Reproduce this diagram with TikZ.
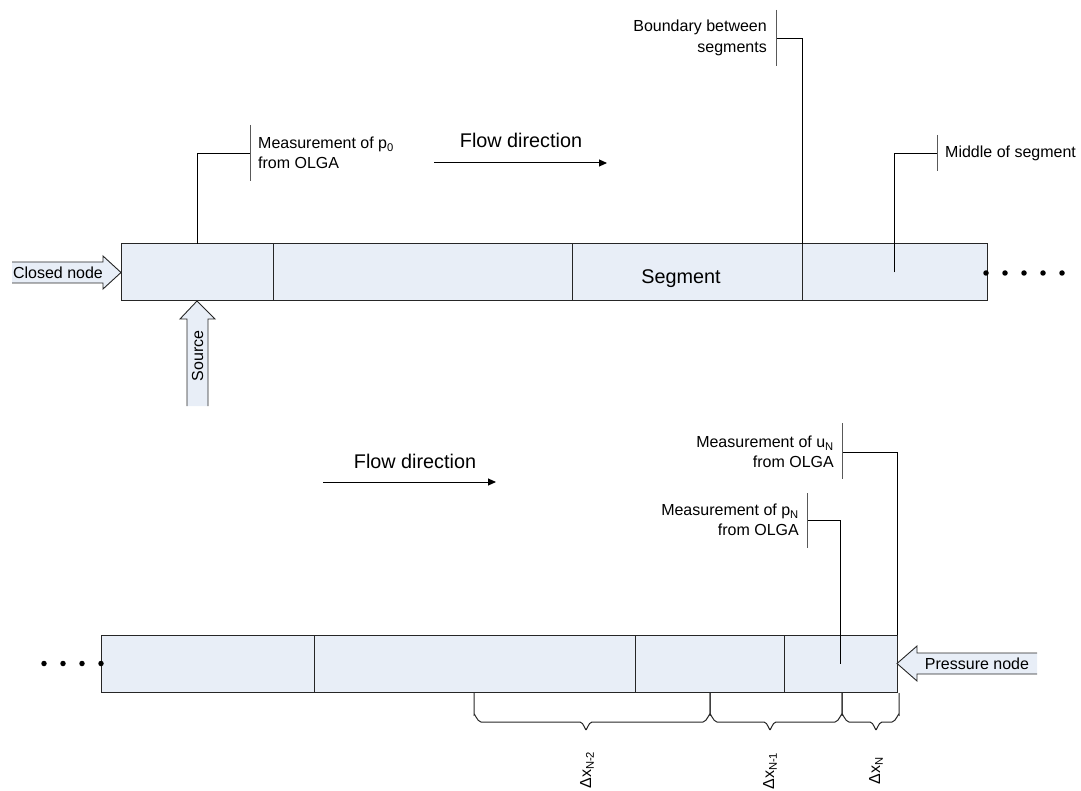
\documentclass[tikz,border=0pt]{standalone}
\usepackage{fontspec}
\setmainfont{Liberation Sans}
\usetikzlibrary{arrows.meta}
\definecolor{pipefill}{RGB}{232,238,247}
\begin{document}
\begin{tikzpicture}[x=1pt,y=-1pt,
  seg/.style={draw=black!85, fill=pipefill, line width=1pt, minimum height=57pt, inner sep=0pt, outer sep=0pt, anchor=north west},
  lead/.style={draw=black, line width=0.9pt},
  bar/.style={draw=black!65, line width=1pt},
  ctext/.style={font=\fontsize{16}{20.5}\selectfont, inner sep=0pt},
  bigtext/.style={font=\fontsize{19.8}{23}\selectfont, inner sep=0pt},
  flow/.style={-{Triangle[length=8pt,width=7pt]}, line width=1pt},
  dot/.style={circle, fill=black, inner sep=0pt, minimum size=5.5pt},
  bigarrow/.style={draw=black!85, line width=0.9pt},
  brace/.style={draw=black!85, line width=1pt}
]
\useasboundingbox (0,0) rectangle (1081,791);

% ---------- top pipe ----------
\node[seg, minimum width=152pt] (t1) at (121,244) {};
\node[seg, minimum width=299pt] (t2) at (273,244) {};
\node[seg, minimum width=230pt] (t3) at (572,244) {};
\node[seg, minimum width=185pt] (t4) at (802,244) {};
\node[bigtext] (seglabel) at (681,279) {Segment};

\foreach \i/\x in {1/986,2/1005,3/1024,4/1043,5/1062}
  \node[dot] (td\i) at (\x,273) {};

% closed node arrow
\fill[pipefill] (12,262) -- (103,262) -- (103,256) -- (t1.west) -- (103,289) -- (103,283) -- (12,283) -- cycle;
\draw[bigarrow] (12,262) -- (103,262) -- (103,256) -- (t1.west) -- (103,289) -- (103,283) -- (12,283);
\node[ctext] (closed) at (58,272.5) {Closed node};

% source arrow
\fill[pipefill] (187,406) -- (187,319) -- (180,319) -- (t1.south) -- (215,319) -- (208,319) -- (208,406) -- cycle;
\draw[bigarrow] (187,406) -- (187,319) -- (180,319) -- (t1.south) -- (215,319) -- (208,319) -- (208,406);
\node[ctext, rotate=90] (source) at (197.5,356) {Source};

% callout: p0
\coordinate (p0c) at (250,153);
\draw[lead] (t1.north) |- (p0c);
\draw[bar] (250,125) -- (250,181);
\node[ctext, anchor=west, align=left] (p0txt) at (258,153) {Measurement of p\textsubscript{0}\\from OLGA};

% callout: boundary
\coordinate (bc) at (776,38);
\draw[lead] (t3.north east) |- (bc);
\draw[bar] (776,10) -- (776,66);
\node[ctext, anchor=east, align=right] (btxt) at (767,38) {Boundary between\\segments};

% callout: middle
\coordinate (mc) at (937,153);
\draw[lead] (t4.center) |- (mc);
\draw[bar] (937,135) -- (937,171);
\node[ctext, anchor=west] (mtxt) at (945,153) {Middle of segment};

% flow direction (top)
\node[bigtext] (flow1) at (521,140) {Flow direction};
\coordinate (f1a) at (434,163);
\coordinate (f1b) at (607,163);
\draw[flow] (f1a) -- (f1b);

% ---------- bottom pipe ----------
\node[seg, minimum width=213pt] (b1) at (101,635) {};
\node[seg, minimum width=321pt] (b2) at (314,635) {};
\node[seg, minimum width=149pt] (b3) at (635,635) {};
\node[seg, minimum width=113pt] (b4) at (784,635) {};

\foreach \i/\x in {1/44,2/63,3/82,4/101}
  \node[dot] (bd\i) at (\x,663.5) {};

% pressure node arrow
\fill[pipefill] (1037,653) -- (917,653) -- (917,646) -- (b4.east) -- (917,681) -- (917,674) -- (1037,674) -- cycle;
\draw[bigarrow] (1037,653) -- (917,653) -- (917,646) -- (b4.east) -- (917,681) -- (917,674) -- (1037,674);
\node[ctext] (pressure) at (977,663.5) {Pressure node};

% callout: uN
\coordinate (uc) at (842,452);
\draw[lead] (b4.north east) |- (uc);
\draw[bar] (842,423) -- (842,479);
\node[ctext, anchor=east, align=right] (utxt) at (834,452) {Measurement of u\textsubscript{N}\\from OLGA};

% callout: pN
\coordinate (pc) at (807,520);
\draw[lead] (b4.center) |- (pc);
\draw[bar] (807,493) -- (807,548);
\node[ctext, anchor=east, align=right] (ptxt) at (799,520) {Measurement of p\textsubscript{N}\\from OLGA};

% flow direction (bottom)
\node[bigtext] (flow2) at (415,461) {Flow direction};
\coordinate (f2a) at (323,482);
\coordinate (f2b) at (496,482);
\draw[flow] (f2a) -- (f2b);

% braces
\draw[brace] (474,693) -- (474,715) to[out=90,in=180] (481,722) -- (580,722) to[out=0,in=-90] (586,729) to[out=-90,in=180] (592,722) -- (703,722) to[out=0,in=90] (710,715) -- (710,693);
\draw[brace] (710,693) -- (710,715) to[out=90,in=180] (717,722) -- (764,722) to[out=0,in=-90] (770,729) to[out=-90,in=180] (776,722) -- (835,722) to[out=0,in=90] (842,715) -- (842,693);
\draw[brace] (842,693) -- (842,715) to[out=90,in=180] (849,722) -- (870,722) to[out=0,in=-90] (876,729) to[out=-90,in=180] (882,722) -- (892,722) to[out=0,in=90] (899,715) -- (899,693);

\node[ctext, rotate=90] (dx2) at (587,770) {Δx\textsubscript{N-2}};
\node[ctext, rotate=90] (dx1) at (770,771) {Δx\textsubscript{N-1}};
\node[ctext, rotate=90] (dx0) at (876,771) {Δx\textsubscript{N}};
\end{tikzpicture}
\end{document}
